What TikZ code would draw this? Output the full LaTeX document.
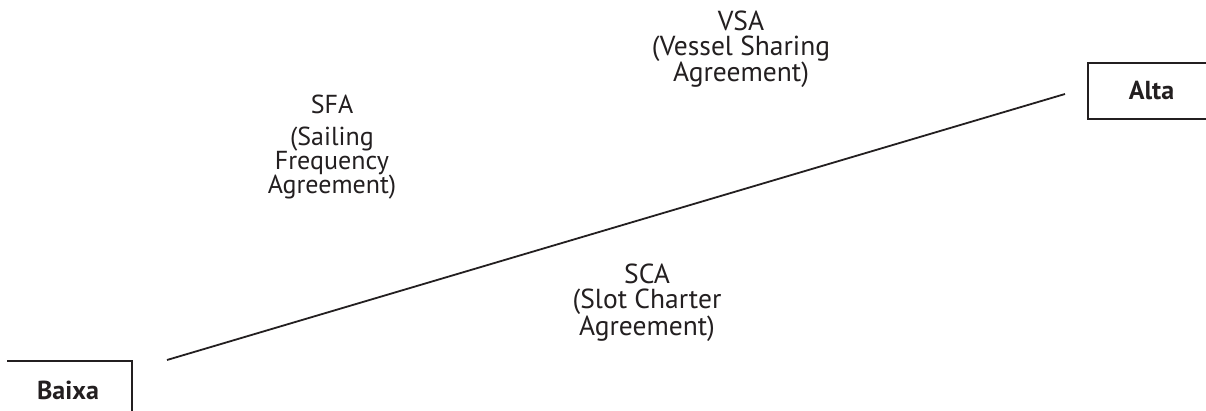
\documentclass[tikz,border=0pt]{standalone}
\usepackage{fontspec}
\setmainfont{PT Sans}
\definecolor{ink}{HTML}{231F20}
\begin{document}
\begin{tikzpicture}[x=1pt,y=-1pt,
  lbl/.style={align=center,inner sep=0pt,anchor=base,text=ink,font=\fontsize{27.5}{25}\selectfont},
  endbox/.style={draw=ink,line width=1.4pt,inner sep=0pt,text=ink,font=\fontsize{26}{26}\selectfont\bfseries},
  boxline/.style={draw=ink,line width=1.4pt},
  axisline/.style={draw=ink,line width=1.8pt}]
\useasboundingbox (0,0) rectangle (1206,411);
\clip (0,0) rectangle (1206,411);
\fill[white] (0,0) rectangle (1206,411);
\node[inner sep=0pt,text=ink,font=\fontsize{26}{26}\selectfont\bfseries] (baixa) at (68,390) {Baixa};
\draw[boxline] (7,361) -| (132,420);
\node[endbox,minimum width=127pt,minimum height=56pt] (alta) at (1151.5,91) {Alta};
\coordinate (ls) at (167,360);
\coordinate (le) at (1065,94);
\draw[axisline] (ls) -- (le);
\node[lbl,font=\fontsize{26}{24}\selectfont] (sfa) at (332,194) {SFA\\[8pt](Sailing\\Frequency\\Agreement)};
\node[lbl] (vsa) at (741,82) {VSA\\(Vessel Sharing\\Agreement)};
\node[lbl] (sca) at (647,335) {SCA\\(Slot Charter\\Agreement)};
\end{tikzpicture}
\end{document}
